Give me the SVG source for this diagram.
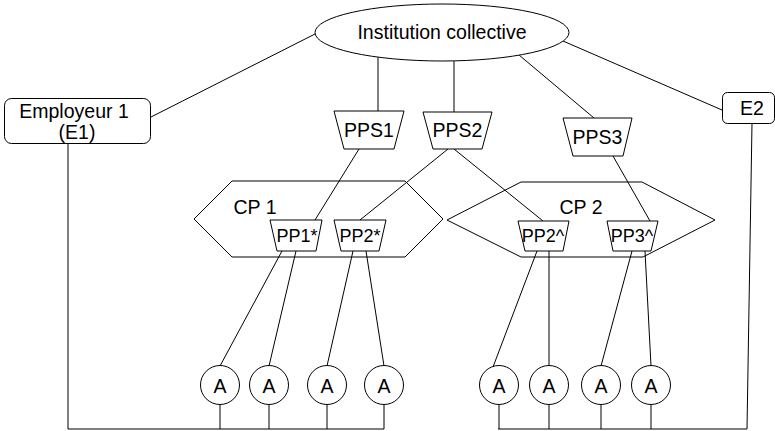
<svg xmlns="http://www.w3.org/2000/svg" width="775" height="431" viewBox="0 0 775 431">
<style>
.s{fill:#fff;stroke:#000;stroke-width:1}
.c line,.c polyline{stroke:#000;stroke-width:1;fill:none}
text{font-family:"Liberation Sans",Arial,sans-serif;font-size:19.5px;fill:#000;text-anchor:middle}
.sm{font-size:18px}
</style>
<rect width="775" height="431" fill="#fff"/>
<g id="cp1"><polygon class="s" points="194,219 232,181 405,181 443,219 405,257 232,257"/><text x="255" y="214">CP 1</text></g>
<g id="cp2"><polygon class="s" points="447,220 521,182 642,182 715,220 643,257 521,257"/><text x="581" y="214">CP 2</text></g>
<g class="c" id="connectors">
<line x1="315" y1="34" x2="151" y2="117"/>
<line x1="563" y1="41" x2="722" y2="110"/>
<line x1="378" y1="57" x2="378" y2="111"/>
<line x1="454" y1="61" x2="454" y2="112"/>
<line x1="519" y1="55" x2="594" y2="118"/>
<line x1="359" y1="149" x2="315" y2="220"/>
<line x1="448" y1="149" x2="360" y2="220"/>
<line x1="454" y1="149" x2="543" y2="221"/>
<line x1="613" y1="156" x2="650" y2="221"/>
<line x1="282" y1="251" x2="220" y2="366"/>
<line x1="296" y1="251" x2="269" y2="366"/>
<line x1="353" y1="251" x2="327" y2="366"/>
<line x1="366" y1="251" x2="384" y2="366"/>
<line x1="537" y1="251" x2="493" y2="367"/>
<line x1="549" y1="251" x2="549" y2="366"/>
<line x1="632" y1="251" x2="601" y2="366"/>
<line x1="645" y1="251" x2="651" y2="366"/>
<polyline points="68,143 68,429 384,429"/>
<line x1="220" y1="405" x2="220" y2="429"/>
<line x1="269" y1="405" x2="269" y2="429"/>
<line x1="327" y1="405" x2="327" y2="429"/>
<line x1="384" y1="405" x2="384" y2="429"/>
<polyline points="752,123 747,429 498,429"/>
<line x1="499" y1="405" x2="499" y2="429"/>
<line x1="549" y1="405" x2="549" y2="429"/>
<line x1="601" y1="405" x2="601" y2="429"/>
<line x1="651" y1="405" x2="651" y2="429"/>
</g>
<g id="inst"><ellipse class="s" cx="442" cy="32.5" rx="127" ry="28.5"/><text x="442" y="39">Institution collective</text></g>
<g id="e1"><rect class="s" x="4.5" y="98.5" width="146" height="45" rx="7"/><text x="74" y="118">Employeur 1</text><text x="77" y="139">(E1)</text></g>
<g id="e2"><rect class="s" x="722.5" y="92.5" width="52" height="31" rx="5"/><text x="752" y="115">E2</text></g>
<g id="pps1"><polygon class="s" points="334,111 404,111 394,149 344,149"/><text x="369" y="137">PPS1</text></g>
<g id="pps2"><polygon class="s" points="423,112 492,112 482,149 433,149"/><text x="457.5" y="137">PPS2</text></g>
<g id="pps3"><polygon class="s" points="563,118 632,118 623,156 573,156"/><text x="597.5" y="144">PPS3</text></g>
<g id="pp1"><polygon class="s" points="270,220 322,220 316,251 277,251"/><text class="sm" x="297" y="242">PP1*</text></g>
<g id="pp2a"><polygon class="s" points="334,220 386,220 379,251 341,251"/><text class="sm" x="360" y="242">PP2*</text></g>
<g id="pp2b"><polygon class="s" points="518,221 569,221 563,251 525,251"/><text class="sm" x="543" y="242">PP2^</text></g>
<g id="pp3"><polygon class="s" points="607,221 658,221 651,251 613,251"/><text class="sm" x="632" y="242">PP3^</text></g>
<g id="a1"><circle class="s" cx="220" cy="385" r="19.5"/><text x="220" y="393">A</text></g>
<g id="a2"><circle class="s" cx="269" cy="385" r="19.5"/><text x="269" y="393">A</text></g>
<g id="a3"><circle class="s" cx="327" cy="385" r="19.5"/><text x="327" y="393">A</text></g>
<g id="a4"><circle class="s" cx="384" cy="385" r="19.5"/><text x="384" y="393">A</text></g>
<g id="a5"><circle class="s" cx="499" cy="385" r="19.5"/><text x="499" y="393">A</text></g>
<g id="a6"><circle class="s" cx="549" cy="385" r="19.5"/><text x="549" y="393">A</text></g>
<g id="a7"><circle class="s" cx="601" cy="385" r="19.5"/><text x="601" y="393">A</text></g>
<g id="a8"><circle class="s" cx="651" cy="385" r="19.5"/><text x="651" y="393">A</text></g>
</svg>
